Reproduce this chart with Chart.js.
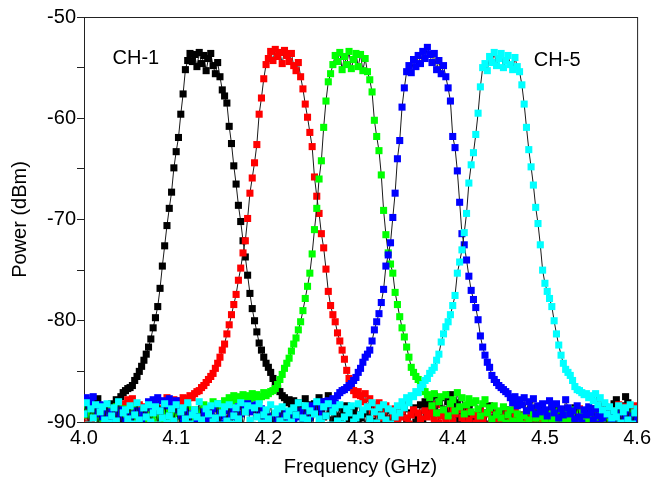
<!DOCTYPE html>
<html>
<head>
<meta charset="utf-8">
<script src="https://cdn.jsdelivr.net/npm/chart.js@4.4.0/dist/chart.umd.min.js"></script>
<style>
  html, body { margin: 0; padding: 0; background: #fff; }
</style>
</head>
<body>
<canvas id="grafico" width="655" height="479"></canvas>
<script>
// frequencias do varrimento (GHz)
const freqGHz = [
  4.0000,4.0025,4.0050,4.0075,4.0100,4.0125,4.0150,4.0175,4.0200,4.0225,
  4.0250,4.0275,4.0300,4.0325,4.0350,4.0375,4.0400,4.0425,4.0450,4.0475,
  4.0500,4.0525,4.0550,4.0575,4.0600,4.0625,4.0650,4.0675,4.0700,4.0725,
  4.0750,4.0775,4.0800,4.0825,4.0850,4.0875,4.0900,4.0925,4.0950,4.0975,
  4.1000,4.1025,4.1050,4.1075,4.1100,4.1125,4.1150,4.1175,4.1200,4.1225,
  4.1250,4.1275,4.1300,4.1325,4.1350,4.1375,4.1400,4.1425,4.1450,4.1475,
  4.1500,4.1525,4.1550,4.1575,4.1600,4.1625,4.1650,4.1675,4.1700,4.1725,
  4.1750,4.1775,4.1800,4.1825,4.1850,4.1875,4.1900,4.1925,4.1950,4.1975,
  4.2000,4.2025,4.2050,4.2075,4.2100,4.2125,4.2150,4.2175,4.2200,4.2225,
  4.2250,4.2275,4.2300,4.2325,4.2350,4.2375,4.2400,4.2425,4.2450,4.2475,
  4.2500,4.2525,4.2550,4.2575,4.2600,4.2625,4.2650,4.2675,4.2700,4.2725,
  4.2750,4.2775,4.2800,4.2825,4.2850,4.2875,4.2900,4.2925,4.2950,4.2975,
  4.3000,4.3025,4.3050,4.3075,4.3100,4.3125,4.3150,4.3175,4.3200,4.3225,
  4.3250,4.3275,4.3300,4.3325,4.3350,4.3375,4.3400,4.3425,4.3450,4.3475,
  4.3500,4.3525,4.3550,4.3575,4.3600,4.3625,4.3650,4.3675,4.3700,4.3725,
  4.3750,4.3775,4.3800,4.3825,4.3850,4.3875,4.3900,4.3925,4.3950,4.3975,
  4.4000,4.4025,4.4050,4.4075,4.4100,4.4125,4.4150,4.4175,4.4200,4.4225,
  4.4250,4.4275,4.4300,4.4325,4.4350,4.4375,4.4400,4.4425,4.4450,4.4475,
  4.4500,4.4525,4.4550,4.4575,4.4600,4.4625,4.4650,4.4675,4.4700,4.4725,
  4.4750,4.4775,4.4800,4.4825,4.4850,4.4875,4.4900,4.4925,4.4950,4.4975,
  4.5000,4.5025,4.5050,4.5075,4.5100,4.5125,4.5150,4.5175,4.5200,4.5225,
  4.5250,4.5275,4.5300,4.5325,4.5350,4.5375,4.5400,4.5425,4.5450,4.5475,
  4.5500,4.5525,4.5550,4.5575,4.5600,4.5625,4.5650,4.5675,4.5700,4.5725,
  4.5750,4.5775,4.5800,4.5825,4.5850,4.5875,4.5900,4.5925,4.5950,4.5975,
  4.6000
];

// potencia de cada canal (dBm)
const ch1Power = [
  -88.3,-87.9,-88.6,-89.4,-88.1,-88.8,-87.7,-89.6,-88.4,-89.1,
  -88.7,-89.3,-88.2,-88.9,-87.8,-88.4,-87.5,-87.1,-86.9,-86.7,
  -86.6,-86.4,-85.9,-85.5,-85.0,-84.5,-83.9,-83.3,-82.6,-81.8,
  -80.7,-79.7,-78.6,-76.8,-74.6,-72.6,-70.6,-68.9,-67.3,-64.9,
  -63.3,-61.9,-59.6,-57.6,-55.2,-54.3,-53.6,-54.4,-53.7,-54.9,
  -53.5,-54.6,-53.8,-55.3,-54.1,-53.6,-54.8,-55.6,-54.5,-55.9,
  -57.2,-57.8,-58.5,-60.8,-62.5,-64.7,-66.5,-68.6,-70.2,-72.1,
  -73.7,-75.5,-77.3,-78.8,-80.0,-81.1,-82.2,-82.9,-83.6,-84.2,
  -84.6,-85.1,-85.7,-86.2,-86.7,-87.0,-87.4,-87.6,-88.1,-87.8,
  -88.4,-87.9,-88.8,-88.1,-89.2,-88.5,-87.7,-89.0,-88.3,-88.9,
  -88.2,-89.1,-87.6,-88.7,-89.5,-88.0,-87.4,-88.9,-89.8,-88.3,
  -89.4,-88.6,-90.3,-89.0,-88.4,-89.7,-90.6,-88.8,-89.3,-90.1,
  -89.6,-88.9,-90.4,-89.2,-88.6,-89.9,-90.7,-89.1,-88.5,-90.2,
  -89.3,-90.5,-88.8,-89.7,-90.2,-88.9,-89.5,-90.8,-89.0,-88.7,
  -89.8,-90.3,-89.1,-88.6,-90.0,-89.4,-88.3,-89.9,-88.0,-88.6,
  -87.9,-88.5,-87.4,-89.1,-88.2,-87.6,-88.8,-89.4,-88.0,-87.3,
  -88.6,-89.2,-88.1,-89.7,-88.9,-90.3,-89.5,-88.7,-90.1,-89.3,
  -89.8,-90.4,-88.9,-89.6,-90.2,-89.1,-88.4,-89.9,-90.6,-89.4,
  -89.0,-90.3,-89.7,-88.8,-90.5,-89.4,-90.1,-88.9,-89.6,-90.2,
  -89.3,-90.6,-89.8,-89.1,-90.4,-88.7,-89.9,-90.3,-89.5,-90.0,
  -89.7,-90.2,-89.0,-90.5,-89.4,-88.8,-90.1,-89.6,-90.4,-89.2,
  -89.9,-90.3,-89.1,-88.6,-89.8,-90.5,-89.4,-90.0,-88.9,-89.6,
  -90.2,-89.3,-88.7,-89.8,-90.4,-89.1,-88.5,-89.7,-90.3,-88.9,
  -88.2,-87.8,-89.0,-88.4,-89.3,-87.5,-88.1,-89.2,-88.6,-89.5,
  -88.8
];
const ch2Power = [
  -89.4,-90.2,-88.9,-89.7,-90.5,-89.1,-88.6,-89.8,-90.3,-89.0,
  -89.5,-90.1,-88.8,-89.3,-90.4,-89.6,-88.4,-89.1,-88.2,-87.8,
  -88.0,-87.7,-88.6,-89.2,-88.3,-89.0,-88.5,-89.4,-88.1,-88.8,
  -89.3,-88.4,-87.9,-88.7,-89.1,-88.2,-87.6,-88.9,-88.3,-87.8,
  -88.5,-87.9,-88.2,-87.6,-88.0,-87.7,-87.4,-87.6,-87.2,-87.0,
  -86.9,-86.6,-86.4,-86.1,-85.8,-85.5,-85.2,-84.7,-84.2,-83.6,
  -82.9,-82.3,-81.3,-80.4,-79.4,-78.4,-77.4,-76.0,-74.8,-73.3,
  -72.1,-69.9,-67.4,-65.9,-64.4,-62.6,-59.6,-58.0,-56.1,-54.7,
  -54.1,-53.4,-54.3,-53.2,-53.9,-53.5,-54.6,-53.3,-53.8,-54.4,
  -53.6,-54.8,-55.3,-54.5,-55.9,-57.1,-58.6,-59.9,-61.4,-62.8,
  -65.8,-67.7,-69.4,-71.4,-72.8,-74.9,-77.1,-78.5,-79.4,-80.1,
  -81.2,-82.0,-82.9,-83.8,-84.9,-85.7,-86.5,-86.9,-87.3,-87.0,
  -87.4,-88.0,-87.2,-88.5,-87.7,-88.9,-88.3,-89.2,-88.1,-89.6,
  -89.0,-88.4,-89.7,-90.3,-89.2,-88.7,-90.1,-89.5,-88.9,-90.4,
  -89.6,-90.2,-89.3,-88.8,-90.5,-89.1,-89.7,-90.4,-88.9,-89.5,
  -89.2,-88.6,-89.8,-88.3,-90.1,-89.4,-88.9,-89.7,-90.3,-88.7,
  -89.9,-89.2,-90.5,-88.8,-89.6,-90.2,-89.0,-89.8,-90.4,-89.3,
  -90.1,-89.5,-88.9,-89.7,-90.3,-89.2,-88.8,-90.0,-89.6,-89.1,
  -89.8,-90.4,-89.3,-88.9,-89.7,-90.2,-89.5,-88.8,-90.0,-89.4,
  -89.9,-90.5,-89.2,-89.8,-88.9,-90.3,-89.6,-89.1,-90.2,-89.7,
  -89.4,-90.0,-89.6,-88.8,-90.4,-89.2,-89.9,-90.6,-89.3,-88.9,
  -89.7,-90.3,-89.0,-89.5,-90.1,-88.7,-89.4,-90.2,-89.8,-89.1,
  -89.6,-90.4,-88.9,-89.3,-90.0,-89.7,-88.6,-89.2,-90.3,-89.5,
  -88.9,-89.6,-88.3,-89.1,-89.8,-88.5,-89.4,-88.7,-89.0,-88.4,
  -88.9
];
const ch3Power = [
  -88.6,-89.3,-88.2,-89.0,-88.7,-89.5,-88.4,-89.8,-88.9,-89.2,
  -89.6,-88.8,-89.4,-90.1,-88.5,-89.2,-89.9,-88.7,-89.3,-90.2,
  -89.0,-89.7,-88.6,-90.3,-89.4,-88.9,-89.8,-90.4,-89.1,-89.5,
  -90.0,-89.3,-88.8,-89.6,-90.2,-89.0,-89.7,-88.6,-89.4,-90.1,
  -89.2,-88.7,-89.5,-90.3,-89.0,-88.5,-89.3,-89.9,-88.8,-89.4,
  -88.9,-89.6,-88.3,-89.1,-88.6,-89.4,-88.0,-88.7,-88.2,-88.9,
  -88.3,-87.9,-88.6,-87.6,-88.1,-87.4,-87.8,-87.5,-88.0,-87.3,
  -87.7,-87.4,-87.9,-87.2,-87.6,-87.3,-87.8,-87.5,-87.1,-87.4,
  -87.2,-87.0,-86.9,-86.7,-86.3,-85.8,-85.3,-84.7,-84.2,-83.7,
  -83.0,-82.3,-81.7,-80.9,-80.1,-79.0,-77.8,-76.6,-75.3,-73.4,
  -71.0,-68.9,-66.0,-64.2,-60.9,-58.3,-56.4,-55.6,-54.7,-53.8,
  -54.4,-53.5,-55.2,-53.9,-54.7,-53.4,-55.1,-54.2,-53.6,-54.9,
  -53.7,-55.3,-54.1,-55.4,-56.2,-57.4,-60.2,-61.8,-63.2,-65.6,
  -69.1,-71.5,-73.3,-74.4,-75.3,-77.2,-78.4,-79.6,-80.7,-81.6,
  -82.6,-83.6,-84.6,-85.1,-85.5,-85.8,-86.2,-86.7,-87.0,-87.3,
  -87.6,-88.4,-87.2,-89.1,-88.0,-87.5,-88.8,-87.3,-89.4,-88.2,
  -87.8,-88.9,-87.1,-88.5,-87.6,-89.2,-88.3,-87.7,-89.0,-88.1,
  -87.9,-88.7,-89.4,-88.2,-87.8,-89.1,-88.6,-89.7,-88.4,-89.3,
  -88.9,-89.6,-88.5,-90.1,-89.3,-88.8,-89.9,-90.4,-89.2,-89.7,
  -90.2,-89.4,-88.9,-89.8,-90.5,-89.1,-89.6,-90.3,-88.8,-89.5,
  -89.9,-90.4,-89.2,-89.7,-90.1,-88.9,-89.5,-90.3,-89.8,-89.0,
  -89.6,-90.2,-89.3,-88.8,-89.9,-90.5,-89.1,-89.7,-90.0,-89.4,
  -89.8,-90.3,-89.0,-89.6,-90.4,-88.9,-89.5,-90.1,-89.2,-89.7,
  -90.0,-89.3,-88.7,-89.9,-90.2,-89.4,-88.8,-89.6,-90.3,-89.1,
  -89.5
];
const ch4Power = [
  -88.1,-87.6,-88.4,-87.9,-87.5,-88.7,-89.2,-88.3,-89.5,-88.9,
  -89.6,-90.2,-89.0,-89.7,-90.4,-89.3,-88.8,-89.9,-90.3,-89.4,
  -89.8,-90.5,-89.2,-88.9,-89.6,-90.1,-89.3,-88.6,-88.0,-88.5,
  -87.8,-88.3,-87.6,-88.9,-87.9,-88.4,-88.1,-87.7,-88.6,-88.2,
  -87.9,-88.8,-89.4,-90.1,-89.0,-89.6,-90.3,-89.2,-88.9,-89.7,
  -90.2,-89.5,-89.0,-89.8,-90.4,-89.3,-88.7,-89.6,-90.0,-89.1,
  -89.4,-90.1,-89.7,-88.9,-89.5,-90.3,-88.8,-88.5,-89.2,-88.3,
  -88.6,-88.2,-89.0,-88.4,-88.8,-88.3,-89.3,-88.7,-89.5,-89.9,
  -90.2,-89.4,-89.8,-90.5,-89.1,-89.6,-90.3,-89.0,-89.7,-90.1,
  -89.3,-89.9,-90.4,-88.9,-89.5,-90.2,-89.1,-88.7,-89.6,-88.4,
  -88.9,-88.2,-88.6,-89.3,-88.0,-88.5,-87.9,-88.4,-87.7,-88.1,
  -87.4,-87.1,-86.9,-86.8,-86.6,-86.4,-86.2,-85.9,-85.6,-85.1,
  -84.7,-84.1,-83.6,-83.3,-82.9,-82.0,-80.9,-80.1,-79.3,-78.2,
  -76.9,-74.6,-73.5,-72.3,-69.8,-67.4,-64.0,-62.2,-58.9,-57.0,
  -55.4,-54.8,-55.5,-54.2,-54.9,-53.8,-54.6,-53.4,-54.1,-53.0,
  -53.7,-54.5,-53.6,-55.2,-54.3,-55.6,-54.8,-55.9,-57.0,-58.3,
  -61.8,-62.9,-65.2,-68.3,-71.4,-72.5,-74.0,-75.6,-77.0,-77.9,
  -78.7,-79.9,-81.5,-82.6,-83.4,-84.1,-84.6,-85.4,-85.8,-86.1,
  -86.4,-86.6,-86.8,-87.0,-87.2,-87.6,-88.1,-87.5,-88.4,-87.8,
  -88.3,-87.6,-88.9,-88.0,-88.6,-87.7,-89.2,-88.4,-89.0,-88.2,
  -88.8,-89.4,-87.9,-88.5,-89.1,-88.2,-89.6,-88.7,-89.3,-87.8,
  -88.6,-89.2,-88.9,-89.7,-88.4,-89.5,-90.1,-88.8,-89.3,-88.5,
  -89.1,-89.8,-88.7,-89.4,-90.2,-89.6,-89.0,-90.4,-89.3,-89.9,
  -90.3,-89.5,-89.1,-89.8,-90.5,-89.2,-89.7,-90.1,-89.4,-90.0,
  -89.6
];
const ch5Power = [
  -89.2,-88.1,-90.3,-88.7,-89.6,-88.3,-90.5,-89.0,-88.5,-89.8,
  -88.2,-90.1,-89.4,-88.6,-89.9,-88.0,-90.4,-89.1,-88.8,-89.7,
  -88.4,-90.2,-89.3,-88.1,-89.8,-90.6,-88.6,-89.5,-88.3,-90.0,
  -89.1,-88.5,-90.3,-88.9,-89.6,-88.2,-90.1,-89.4,-88.7,-89.9,
  -88.3,-90.5,-89.0,-88.6,-89.7,-88.1,-90.2,-89.3,-88.8,-89.5,
  -88.0,-89.8,-90.4,-88.7,-89.2,-88.4,-90.0,-89.6,-88.2,-90.3,
  -89.1,-88.5,-89.9,-88.3,-90.2,-89.4,-88.6,-89.7,-88.1,-90.4,
  -89.0,-88.4,-89.8,-90.3,-88.6,-89.5,-88.2,-90.1,-89.3,-88.8,
  -89.7,-88.3,-90.4,-89.1,-88.7,-89.9,-88.5,-90.2,-89.4,-88.9,
  -90.0,-88.6,-89.3,-88.1,-90.3,-89.6,-88.4,-89.8,-88.9,-90.5,
  -89.2,-88.0,-89.7,-90.1,-88.5,-89.4,-88.2,-90.3,-89.0,-88.6,
  -89.9,-88.3,-90.2,-89.5,-88.7,-89.1,-88.4,-90.0,-89.6,-88.2,
  -89.3,-88.8,-90.4,-88.5,-89.7,-88.1,-89.0,-90.1,-88.6,-89.4,
  -88.3,-89.8,-88.7,-90.2,-88.9,-89.5,-88.4,-89.1,-88.0,-88.6,
  -87.6,-88.1,-87.4,-87.5,-87.0,-87.1,-86.6,-86.3,-85.9,-85.7,
  -85.2,-84.9,-84.6,-83.9,-83.3,-82.1,-81.3,-80.6,-80.1,-79.4,
  -78.5,-77.5,-75.3,-74.2,-73.0,-71.3,-69.4,-66.4,-64.6,-63.4,
  -61.6,-59.5,-56.9,-55.0,-54.6,-55.3,-53.9,-54.5,-53.5,-54.8,
  -54.1,-53.6,-55.0,-54.3,-53.8,-54.7,-55.2,-54.0,-54.9,-55.4,
  -56.7,-58.6,-60.9,-63.1,-64.8,-66.6,-68.8,-70.4,-72.5,-75.0,
  -76.3,-77.1,-77.8,-78.6,-80.0,-81.3,-82.4,-83.4,-84.2,-84.8,
  -85.1,-85.4,-85.9,-86.5,-86.8,-86.9,-87.1,-87.3,-87.2,-87.6,
  -87.4,-87.9,-87.2,-88.3,-87.6,-88.8,-88.1,-89.2,-88.5,-89.6,
  -88.9,-89.5,-88.4,-90.1,-89.0,-88.6,-89.8,-88.3,-90.2,-89.1,
  -88.7
];

const channelPowers = [ch1Power, ch2Power, ch3Power, ch4Power, ch5Power];
const channelNames = ["CH-1", "CH-2", "CH-3", "CH-4", "CH-5"];
const channelColors = ["#000000", "#ff0000", "#00ff00", "#0000ff", "#00ffff"];

// rotulos escritos dentro do grafico
const noteText = ["CH-1", "CH-5"];
const noteFreq = [4.031, 4.488];
const notePower = [-54.1, -54.3];

const fonte = "'Liberation Sans', Arial, sans-serif";
const tamanho = 20;

const datasets = channelPowers.map((serie, i) => ({
  label: channelNames[i],
  data: serie.map((p, k) => ({ x: freqGHz[k], y: p })),
  borderColor: "#1a1a1a",
  borderWidth: 1,
  pointStyle: "rect",
  pointRadius: 5,
  pointBorderWidth: 0,
  pointBackgroundColor: channelColors[i],
  pointBorderColor: channelColors[i],
  tension: 0,
  clip: 0,
  order: channelPowers.length - i
}));

const moldura = {
  id: "moldura",
  beforeDatasetsDraw(chart) {
    const { ctx, chartArea: a } = chart;
    ctx.save();
    ctx.strokeStyle = "#222";
    ctx.lineWidth = 1;
    ctx.strokeRect(a.left + 0.5, a.top + 0.5, a.right - a.left, a.bottom - a.top);
    ctx.restore();
  },
  afterDatasetsDraw(chart) {
    const { ctx } = chart;
    const x = chart.scales.x, y = chart.scales.y;
    ctx.save();
    ctx.fillStyle = "#000";
    ctx.font = tamanho + "px " + fonte;
    ctx.textAlign = "left";
    ctx.textBaseline = "middle";
    noteText.forEach((t, i) => {
      ctx.fillText(t, x.getPixelForValue(noteFreq[i]), y.getPixelForValue(notePower[i]));
    });
    ctx.restore();
  }
};

new Chart(document.getElementById("grafico"), {
  type: "line",
  data: { datasets },
  options: {
    responsive: false,
    animation: false,
    layout: { padding: { top: 17, right: 17, left: 0, bottom: 0 } },
    plugins: {
      legend: { display: false },
      tooltip: { enabled: false }
    },
    scales: {
      x: {
        type: "linear",
        min: 4.0,
        max: 4.6,
        afterFit: s => { s.height = 57; },
        grid: { display: false, drawTicks: false },
        border: { display: true, color: "#222", width: 1 },
        ticks: {
          stepSize: 0.1,
          padding: 4,
          color: "#000",
          font: { family: fonte, size: tamanho },
          callback: v => Number(v).toFixed(1)
        },
        title: {
          display: true,
          text: "Frequency (GHz)",
          color: "#000",
          font: { family: fonte, size: tamanho },
          padding: { top: 0, bottom: 0 }
        }
      },
      y: {
        min: -90,
        max: -50,
        afterFit: s => { s.width = 84; },
        grid: { display: true, drawOnChartArea: false, drawTicks: true, tickLength: 7, color: "#222" },
        border: { display: true, color: "#222", width: 1 },
        ticks: {
          stepSize: 5,
          padding: 1,
          color: "#000",
          font: { family: fonte, size: tamanho },
          callback: v => (v % 10 === 0 ? String(v) : "")
        },
        title: {
          display: true,
          text: "Power (dBm)",
          color: "#000",
          font: { family: fonte, size: tamanho },
          padding: { top: 8, bottom: 0 }
        }
      }
    }
  },
  plugins: [moldura]
});
</script>
</body>
</html>
